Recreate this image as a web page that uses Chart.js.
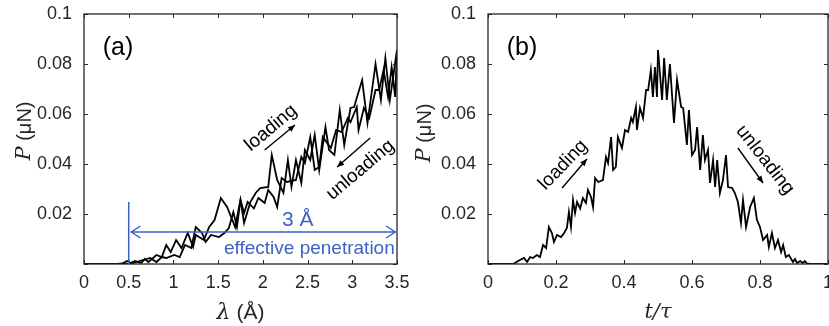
<!DOCTYPE html>
<html>
<head>
<meta charset="utf-8">
<script src="https://cdn.jsdelivr.net/npm/chart.js@4"></script>
<style>
    body { margin: 0; background: #fff; }
    #wrap { position: relative; width: 829px; height: 326px; }
    .panel { position: absolute; top: 0; height: 326px; }
    #panelA { left: 0; width: 410px; }
    #panelB { left: 410px; width: 419px; }
</style>
</head>
<body>
<div id="wrap">
    <div class="panel" id="panelA"><canvas id="chartA"></canvas></div>
    <div class="panel" id="panelB"><canvas id="chartB"></canvas></div>
</div>
<script>
// Data
const tLoad = [0, 0.074, 0.079, 0.094, 0.106, 0.115, 0.124, 0.132, 0.144, 0.153, 0.162, 0.171, 0.179, 0.188, 0.194,
    0.203, 0.215, 0.224, 0.232, 0.238, 0.244, 0.25, 0.256, 0.262, 0.271, 0.279, 0.288, 0.294, 0.303, 0.309, 0.315,
    0.324, 0.338, 0.347, 0.353, 0.362, 0.368, 0.376, 0.382, 0.394, 0.403, 0.412, 0.421, 0.426, 0.435, 0.438, 0.447,
    0.456, 0.465, 0.471, 0.479, 0.485, 0.491, 0.497, 0.5];
const pLoad = [0, 0, 0.0004, 0.0016, 0.0024, 0.0008, 0.0028, 0.0024, 0.0036, 0.0028, 0.0076, 0.0064, 0.0148, 0.0124, 0.0088,
    0.0116, 0.0108, 0.0124, 0.0144, 0.0208, 0.0148, 0.0256, 0.0204, 0.0248, 0.0222, 0.0264, 0.0244, 0.0296, 0.0268, 0.0228, 0.0344,
    0.0328, 0.0336, 0.0428, 0.0404, 0.0508, 0.0376, 0.0388, 0.0508, 0.0464, 0.0536, 0.0528, 0.0584, 0.0568, 0.0628, 0.0536, 0.0624,
    0.0584, 0.0696, 0.0696, 0.0776, 0.0668, 0.0788, 0.0668, 0.0856];
const lamLoad = [0, 0.52, 0.55, 0.66, 0.74, 0.81, 0.87, 0.92, 1.01, 1.07, 1.13, 1.20, 1.25, 1.32, 1.36,
    1.42, 1.51, 1.57, 1.62, 1.67, 1.71, 1.75, 1.79, 1.83, 1.90, 1.95, 2.02, 2.06, 2.12, 2.16, 2.21,
    2.27, 2.37, 2.43, 2.47, 2.53, 2.58, 2.63, 2.67, 2.76, 2.82, 2.88, 2.95, 2.98, 3.05, 3.07, 3.13,
    3.19, 3.26, 3.30, 3.35, 3.40, 3.44, 3.48, 3.5];

const tUnload = [0.5, 0.512, 0.518, 0.526, 0.535, 0.547, 0.556, 0.568, 0.574, 0.585, 0.591, 0.6, 0.609, 0.615, 0.624,
    0.632, 0.638, 0.647, 0.653, 0.662, 0.668, 0.674, 0.682, 0.691, 0.7, 0.706, 0.718, 0.726, 0.735, 0.744, 0.75,
    0.759, 0.771, 0.782, 0.791, 0.8, 0.809, 0.821, 0.826, 0.835, 0.844, 0.853, 0.862, 0.868, 0.876, 0.885, 0.897,
    0.903, 0.909, 0.918, 0.926, 0.932, 0.938, 0.947, 1];
const pUnload = [0.0856, 0.0656, 0.0824, 0.0656, 0.0800, 0.0564, 0.0736, 0.0628, 0.0624, 0.0476, 0.0616, 0.0436, 0.0456, 0.0548, 0.0376,
    0.0516, 0.0416, 0.0456, 0.0324, 0.0416, 0.0308, 0.0416, 0.0284, 0.0336, 0.0436, 0.0308, 0.0304, 0.0284, 0.0248, 0.0164, 0.0256,
    0.0148, 0.0228, 0.0264, 0.0176, 0.0148, 0.0096, 0.0116, 0.0068, 0.0124, 0.0064, 0.0096, 0.0048, 0.0076, 0.0028, 0.0036, 0.0008,
    0.002, 0.0004, 0.0012, 0.0004, 0.0012, 0.0002, 0, 0];
const lamUnload = [3.5, 3.42, 3.37, 3.32, 3.26, 3.17, 3.11, 3.02, 2.98, 2.91, 2.86, 2.80, 2.74, 2.70, 2.63,
    2.58, 2.53, 2.47, 2.43, 2.37, 2.32, 2.28, 2.23, 2.16, 2.10, 2.06, 1.97, 1.92, 1.86, 1.79, 1.75,
    1.69, 1.60, 1.53, 1.46, 1.40, 1.34, 1.25, 1.22, 1.16, 1.09, 1.03, 0.97, 0.92, 0.87, 0.81, 0.72,
    0.68, 0.64, 0.57, 0.52, 0.48, 0.43, 0.37, 0];

const xTicksA = [0, 0.5, 1, 1.5, 2, 2.5, 3, 3.5];
const xTicksB = [0, 0.2, 0.4, 0.6, 0.8, 1];
const yTicks = [0, 0.02, 0.04, 0.06, 0.08, 0.1];

const AXIS = '#262626';
const BLUE = '#3b63c4';
const SANS = '"Liberation Sans", Arial, sans-serif';
const SERIF = '"DejaVu Serif", serif';

const toPoints = (xs, ys) => xs.map((x, i) => ({ x, y: ys[i] }));

// Texte mit gemischten Schriften zeichnen
const drawSegments = (ctx, segs, cx, cy, rot) => {
    ctx.save();
    ctx.translate(cx, cy);
    ctx.rotate(rot * Math.PI / 180);
    let total = 0;
    segs.forEach(s => { ctx.font = s.font; total += ctx.measureText(s.text).width; });
    let x0 = -total / 2;
    ctx.textBaseline = 'middle';
    ctx.textAlign = 'left';
    segs.forEach(s => {
        ctx.font = s.font;
        ctx.fillStyle = s.color || AXIS;
        ctx.fillText(s.text, x0, 0);
        x0 += ctx.measureText(s.text).width;
    });
    ctx.restore();
};

const arrowHead = (ctx, x1, y1, x2, y2, len, half, open) => {
    const ang = Math.atan2(y2 - y1, x2 - x1);
    const bx = x2 - len * Math.cos(ang), by = y2 - len * Math.sin(ang);
    const nx = -Math.sin(ang) * half, ny = Math.cos(ang) * half;
    ctx.beginPath();
    ctx.moveTo(bx + nx, by + ny);
    ctx.lineTo(x2, y2);
    ctx.lineTo(bx - nx, by - ny);
    if (open) { ctx.stroke(); } else { ctx.closePath(); ctx.fill(); }
};

const decor = {
    id: 'decor',
    afterDraw(chart, args, opts) {
        const { ctx, chartArea: a, scales: { x, y } } = chart;
        ctx.save();

        // Rahmen und Ticks nach innen
        ctx.strokeStyle = AXIS;
        ctx.lineWidth = 1.3;
        ctx.strokeRect(a.left, a.top, a.right - a.left, a.bottom - a.top);
        ctx.beginPath();
        x.ticks.forEach(t => {
            const px = Math.round(x.getPixelForValue(t.value)) + 0.5;
            ctx.moveTo(px, a.bottom); ctx.lineTo(px, a.bottom - 4);
            ctx.moveTo(px, a.top); ctx.lineTo(px, a.top + 4);
        });
        y.ticks.forEach(t => {
            const py = Math.round(y.getPixelForValue(t.value)) + 0.5;
            ctx.moveTo(a.left, py); ctx.lineTo(a.left + 4, py);
            ctx.moveTo(a.right, py); ctx.lineTo(a.right - 4, py);
        });
        ctx.lineWidth = 1;
        ctx.stroke();

        // Achsentitel
        drawSegments(ctx, opts.xTitle, (a.left + a.right) / 2, opts.xTitleY, 0);
        drawSegments(ctx, opts.yTitle, opts.yTitleX, opts.yTitleY, -90);

        // Linien und Pfeile
        (opts.lines || []).forEach(l => {
            ctx.strokeStyle = l.color;
            ctx.lineWidth = l.width;
            ctx.beginPath();
            ctx.moveTo(x.getPixelForValue(l.x1), y.getPixelForValue(l.y1));
            ctx.lineTo(x.getPixelForValue(l.x2), y.getPixelForValue(l.y2));
            ctx.stroke();
        });
        (opts.arrows || []).forEach(ar => {
            const x1 = x.getPixelForValue(ar.x1), y1 = y.getPixelForValue(ar.y1);
            const x2 = x.getPixelForValue(ar.x2), y2 = y.getPixelForValue(ar.y2);
            ctx.strokeStyle = ar.color;
            ctx.fillStyle = ar.color;
            ctx.lineWidth = ar.width;
            ctx.beginPath();
            ctx.moveTo(x1, y1);
            ctx.lineTo(x2, y2);
            ctx.stroke();
            arrowHead(ctx, x1, y1, x2, y2, ar.len, ar.half, ar.open);
            if (ar.both) arrowHead(ctx, x2, y2, x1, y1, ar.len, ar.half, ar.open);
        });

        // Beschriftungen
        (opts.notes || []).forEach(n => {
            drawSegments(ctx, [{ text: n.text, font: n.font, color: n.color }],
                x.getPixelForValue(n.x), y.getPixelForValue(n.y), n.rot || 0);
        });
        ctx.restore();
    }
};

const makeChart = (id, datasets, xMin, xMax, xTicks, yAxisWidth, padding, decorOpts) => {
    const ctx = document.getElementById(id);
    if (!ctx) return;

    new Chart(ctx, {
        type: 'line',
        data: { datasets },
        options: {
            responsive: true,
            maintainAspectRatio: false,
            animation: false,
            layout: { padding },
            elements: { point: { radius: 0 }, line: { tension: 0 } },
            plugins: { legend: { display: false }, tooltip: { enabled: false }, decor: decorOpts },
            scales: {
                x: {
                    type: 'linear',
                    min: xMin,
                    max: xMax,
                    grid: { display: false },
                    border: { display: false },
                    afterBuildTicks: s => { s.ticks = xTicks.map(v => ({ value: v })); },
                    ticks: {
                        color: AXIS,
                        padding: 0,
                        maxRotation: 0,
                        autoSkip: false,
                        font: { family: SANS, size: 18 },
                        callback: v => String(v)
                    },
                    afterFit: s => { s.height = 62; s.paddingLeft = 0; s.paddingRight = 0; }
                },
                y: {
                    min: 0,
                    max: 0.1,
                    grid: { display: false },
                    border: { display: false },
                    afterBuildTicks: s => { s.ticks = yTicks.map(v => ({ value: v })); },
                    ticks: {
                        color: AXIS,
                        padding: 4,
                        font: { family: SANS, size: 18 },
                        callback: v => v === 0 ? '' : String(+v.toFixed(2))
                    },
                    afterFit: s => { s.width = yAxisWidth; s.paddingTop = 0; s.paddingBottom = 0; }
                }
            }
        },
        plugins: [decor]
    });
};

const lineStyle = { borderColor: '#000', borderWidth: 1.8, fill: false, pointRadius: 0 };

document.addEventListener('DOMContentLoaded', () => {
    // Panel (a): P gegen lambda
    makeChart('chartA', [
        { label: 'loading', data: toPoints(lamLoad, pLoad), ...lineStyle },
        { label: 'unloading', data: toPoints(lamUnload, pUnload), ...lineStyle }
    ], 0, 3.5, xTicksA, 84, { left: 0, top: 14, right: 13, bottom: 0 }, {
        xTitle: [
            { text: 'λ', font: `italic 22px ${SERIF}` },
            { text: ' (Å)', font: `21px ${SANS}` }
        ],
        xTitleY: 313,
        yTitle: [
            { text: 'P', font: `italic 21px ${SERIF}` },
            { text: ' (μN)', font: `20px ${SANS}` }
        ],
        yTitleX: 25,
        yTitleY: 131,
        lines: [{ x1: 0.5, y1: 0, x2: 0.5, y2: 0.0248, color: BLUE, width: 1.5 }],
        arrows: [
            { x1: 0.53, y1: 0.0128, x2: 3.48, y2: 0.0128, color: BLUE, width: 1.5, len: 9, half: 6, open: true, both: true },
            { x1: 2.02, y1: 0.0456, x2: 2.36, y2: 0.0556, color: '#000', width: 1.4, len: 7, half: 3, open: false },
            { x1: 3.20, y1: 0.0504, x2: 2.83, y2: 0.0388, color: '#000', width: 1.4, len: 7, half: 3, open: false }
        ],
        notes: [
            { text: '(a)', font: `25px ${SANS}`, color: '#000', x: 0.38, y: 0.0864 },
            { text: 'loading', font: `19px ${SANS}`, color: '#000', x: 2.09, y: 0.0544, rot: -40 },
            { text: 'unloading', font: `19px ${SANS}`, color: '#000', x: 3.09, y: 0.0376, rot: -40 },
            { text: '3 Å', font: `21px ${SANS}`, color: BLUE, x: 2.39, y: 0.0176 },
            { text: 'effective penetration', font: `19px ${SANS}`, color: BLUE, x: 2.52, y: 0.006 }
        ]
    });

    // Panel (b): P gegen t/tau
    makeChart('chartB', [
        { label: 'loading', data: toPoints(tLoad, pLoad), ...lineStyle },
        { label: 'unloading', data: toPoints(tUnload, pUnload), ...lineStyle }
    ], 0, 1, xTicksB, 78, { left: 0, top: 14, right: 1, bottom: 0 }, {
        xTitle: [{ text: 't/τ', font: `italic 21px ${SERIF}` }],
        xTitleY: 313,
        yTitle: [
            { text: 'P', font: `italic 21px ${SERIF}` },
            { text: ' (μN)', font: `20px ${SANS}` }
        ],
        yTitleX: 15,
        yTitleY: 133,
        arrows: [
            { x1: 0.218, y1: 0.0304, x2: 0.291, y2: 0.042, color: '#000', width: 1.4, len: 7, half: 3, open: false },
            { x1: 0.735, y1: 0.0464, x2: 0.809, y2: 0.0324, color: '#000', width: 1.4, len: 7, half: 3, open: false }
        ],
        notes: [
            { text: '(b)', font: `25px ${SANS}`, color: '#000', x: 0.1, y: 0.0864 },
            { text: 'loading', font: `19px ${SANS}`, color: '#000', x: 0.221, y: 0.0396, rot: -46 },
            { text: 'unloading', font: `19px ${SANS}`, color: '#000', x: 0.815, y: 0.0416, rot: 52 }
        ]
    });
});
</script>
</body>
</html>
